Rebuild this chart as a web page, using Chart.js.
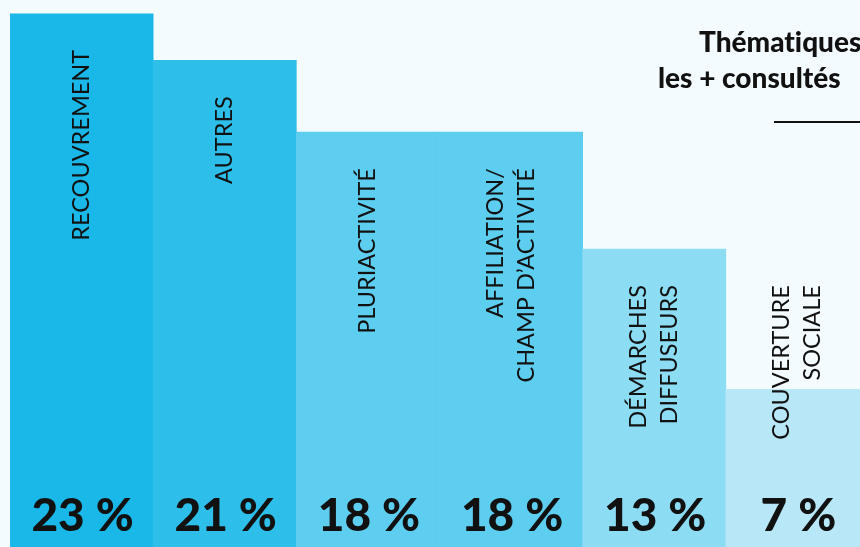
<!DOCTYPE html>
<html><head><meta charset="utf-8">
<script src="https://cdn.jsdelivr.net/npm/chart.js@4/dist/chart.umd.min.js"></script>
<style>
html,body{margin:0;padding:0;background:#f3fbfe;overflow:hidden;width:860px;height:547px;}
#wrap{position:relative;width:870px;height:547px;}
</style></head><body>
<div id="wrap"><canvas id="c" width="870" height="547"></canvas></div>
<script>
const categories = [["RECOUVREMENT"],["AUTRES"],["PLURIACTIVITÉ"],["AFFILIATION/","CHAMP D’ACTIVITÉ"],["DÉMARCHES","DIFFUSEURS"],["COUVERTURE","SOCIALE"]];
const values = [23, 21, 17.9, 17.9, 12.85, 6.8];
const pctLabels = ["23 %","21 %","18 %","18 %","13 %","7 %"];
const barColors = ["#19b8e8","#2dbfea","#5ecef0","#5ecef0","#8cdcf4","#b8e8f8"];
const titleLines = ["Thémat\u200Ciques","les + consultés"];

const labelPlugin = {
  id:'labels',
  afterDatasetsDraw(chart){
    const ctx = chart.ctx;
    const meta = chart.getDatasetMeta(0);
    const ys = chart.scales.y;
    const minTop = ys.getPixelForValue(11.3);
    ctx.save();
    ctx.fillStyle = '#111';
    meta.data.forEach((bar,i)=>{
      const lines = categories[i];
      const top = Math.min(bar.y + 36, minTop);
      ctx.save();
      ctx.translate(bar.x, top);
      ctx.rotate(-Math.PI/2);
      ctx.font = '400 23.5px Lato';
      ctx.textAlign = 'right';
      ctx.textBaseline = 'middle';
      const sp = 31;
      lines.forEach((t,k)=>{
        ctx.fillText(t, 0, (k-(lines.length-1)/2)*sp);
      });
      ctx.restore();
      ctx.font = '900 46px Lato';
      ctx.textAlign = 'center';
      ctx.textBaseline = 'alphabetic';
      ctx.fillText(pctLabels[i], bar.x + 1, 531);
    });
    ctx.font = '900 28px Lato';
    ctx.textAlign = 'left';
    ctx.fillText(titleLines[0], 699, 52);
    ctx.fillText(titleLines[1], 658, 88);
    ctx.fillRect(774, 121, 100, 2);
    ctx.restore();
  }
};

new Chart(document.getElementById('c'), {
  type:'bar',
  data:{
    labels: categories.map(c=>c.join(' ')),
    datasets:[{data:values, backgroundColor:barColors, borderWidth:0, categoryPercentage:1, barPercentage:1}]
  },
  options:{
    responsive:false, animation:false,
    layout:{padding:{left:10,right:1,top:0,bottom:0}},
    plugins:{legend:{display:false}, tooltip:{enabled:false}},
    scales:{
      x:{display:false},
      y:{display:false, min:0, max:23.6}
    }
  },
  plugins:[labelPlugin]
});
</script>
</body></html>
